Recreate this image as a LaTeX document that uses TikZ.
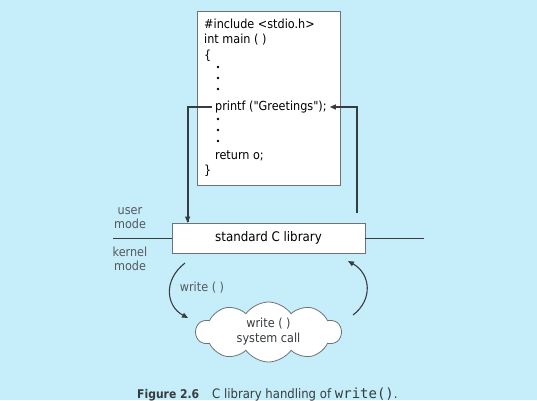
\documentclass[tikz,border=0pt]{standalone}
\usepackage{fontspec}
\setmainfont{DejaVu Sans Condensed}
\newfontfamily\codefont{DejaVu Sans Condensed}
\setmonofont{DejaVu Sans Mono}
\usetikzlibrary{shapes.symbols,arrows.meta}
\definecolor{bgblue}{RGB}{198,237,250}
\definecolor{linegray}{RGB}{55,60,65}
\definecolor{boxgray}{RGB}{110,115,120}
\tikzset{
  codeline/.style={anchor=west,inner sep=0pt,font=\codefont\fontsize{12.5}{14}\selectfont},
  lbl/.style={inner sep=0pt,align=center,font=\fontsize{12.5}{14.5}\selectfont,text=linegray!85},
  conn/.style={draw=linegray,line width=1.1pt,-{Triangle[length=6pt,width=5pt]}},
  codedot/.style={circle,fill=black,inner sep=0pt,minimum size=2.8pt}
}
\begin{document}
\begin{tikzpicture}[x=1pt,y=-1pt]
\useasboundingbox (0,0) rectangle (537,400);
\fill[bgblue] (0,0) rectangle (537,400);
% program box
\node[draw=boxgray,fill=white,line width=0.8pt,minimum width=143pt,minimum height=174pt,inner sep=0pt] (code) at (268.5,98) {};
\node[codeline] (inc) at (204,24) {\#include <stdio.h>};
\node[codeline] (mainl) at (204,40) {int main ( )};
\node[codeline] (open) at (204,56) {\{};
\foreach \y in {67,78,89} \node[codedot] at (218,\y) {};
\node[codeline] (printf) at (215,107) {printf ("Greetings");};
\foreach \y in {119,130,141} \node[codedot] at (218,\y) {};
\node[codeline] (ret) at (215,156) {return o;};
\node[codeline] (close) at (204,171) {\}};
% library and mode line
\node[draw=boxgray,fill=white,line width=0.8pt,minimum width=193pt,minimum height=30pt,inner sep=0pt,font=\fontsize{13.2}{14}\selectfont] (lib) at (268.5,238) {standard C library};
\coordinate (lend) at (113,238);
\coordinate (rend) at (424,238);
\draw[linegray,line width=1pt] (lend) -- (lib.west);
\draw[linegray,line width=1pt] (lib.east) -- (rend);
\node[lbl] (user) at (130,218) {user\\mode};
\node[lbl] (kernel) at (130,259) {kernel\\mode};
% calls into the library
\draw[conn,-] ([xshift=-3pt]printf.west) -| (188,222);
\draw[conn] (188,200) -- ([xshift=-0.5pt]lib.north west -| 188,0);
\coordinate (rtop) at (357,213);
\draw[conn] (rtop) |- ([xshift=3pt]printf.east);
% system call
\node[cloud,draw=boxgray,fill=white,line width=0.8pt,cloud puffs=10,cloud puff arc=110,aspect=2.4,minimum width=145pt,minimum height=60pt,inner sep=0pt] (sys) at (268.5,332) {};
\node[lbl,text=linegray] (systxt) at (268.5,331.5) {write ( )\\system call};
\coordinate (l1) at (185,263);
\coordinate (l2) at (188,318);
\coordinate (r1) at (353,315);
\coordinate (r2) at (348,261);
\draw[conn] (l1) .. controls (163,280) and (166,306) .. (l2);
\draw[conn] (r1) .. controls (373,300) and (371,274) .. (r2);
\node[lbl] (wlbl) at (202,288) {write ( )};
% caption
\node[anchor=base west,inner sep=0pt,font=\fontsize{13}{13}\selectfont,text=linegray] (cap) at (137,398)
  {{\fontsize{12}{13}\selectfont\textbf{Figure 2.6}}\hspace{13pt}C library handling of {\ttfamily\fontsize{14}{14}\selectfont write()}.};
\end{tikzpicture}
\end{document}
